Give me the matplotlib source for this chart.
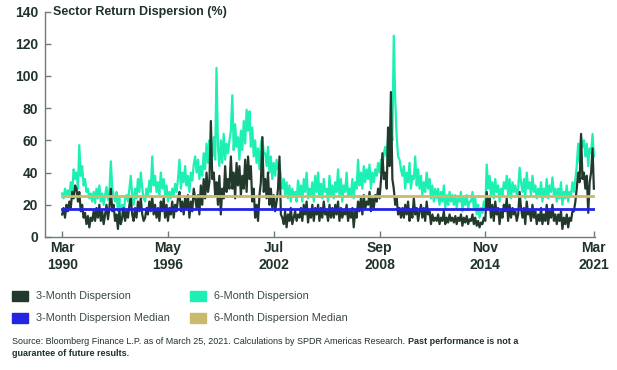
import matplotlib.pyplot as plt
from matplotlib.patches import Rectangle
import pandas as pd

plt.rcParams['font.family'] = ['Liberation Sans', 'DejaVu Sans']

# monthly points, Mar 1990 .. Mar 2021
three_month = [
    14, 18, 12, 20, 16, 22, 18, 28, 24, 32,
    30, 22, 28, 16, 20, 12, 15, 8, 13, 6, 12, 10,
    16, 10, 18, 12, 20, 10, 16, 8, 14, 20, 11, 18,
    30, 16, 20, 10, 14, 5, 16, 8, 12, 18, 10, 16,
    12, 20, 24, 14, 10, 18, 12, 22, 16, 24, 14, 10,
    12, 18, 14, 22, 16, 25, 14, 20, 12, 18, 10, 22,
    16, 24, 12, 20, 10, 18, 14, 22, 12, 20, 16, 24,
    28, 16, 22, 14, 24, 18, 26, 12, 22, 16, 30, 24,
    18, 26, 14, 32, 20, 36, 24, 40, 28, 34, 72, 36,
    40, 26, 34, 20, 38, 14, 30, 24, 44, 28, 36, 30,
    50, 30, 40, 24, 46, 32, 44, 26, 38, 30, 48, 28,
    50, 36, 44, 22, 30, 12, 20, 10, 26, 34, 62, 28,
    36, 24, 40, 20, 30, 18, 26, 16, 22, 30, 50, 14,
    12, 8, 16, 6, 14, 10, 18, 8, 12, 16, 10, 14,
    12, 18, 10, 20, 14, 22, 9, 16, 12, 20, 10, 18,
    14, 20, 10, 18, 12, 22, 14, 16, 10, 20, 12, 18,
    12, 20, 14, 22, 10, 18, 12, 16, 14, 20, 10, 16,
    12, 18, 6, 16, 12, 22, 16, 24, 14, 26, 18, 22,
    20, 28, 16, 24, 18, 26, 22, 30, 24, 35, 52, 36,
    40, 30, 68, 44, 90, 36, 30, 20, 24, 14, 18, 12,
    18, 12, 20, 14, 22, 10, 16, 12, 24, 14, 18, 10,
    16, 20, 12, 18, 10, 22, 14, 16, 8, 14, 10, 12,
    10, 14, 8, 12, 10, 16, 8, 12, 9, 14, 10, 12,
    9, 13, 8, 12, 10, 14, 7, 12, 9, 13, 8, 11,
    10, 14, 8, 12, 7, 10, 6, 9, 8, 12, 10, 28,
    18, 24, 12, 20, 10, 22, 14, 18, 8, 16, 12, 20,
    16, 24, 10, 20, 12, 18, 14, 16, 10, 14, 28, 18,
    12, 18, 8, 22, 14, 16, 10, 20, 12, 16, 8, 14,
    10, 18, 8, 14, 10, 20, 8, 16, 12, 20, 10, 14,
    8, 14, 10, 16, 5, 12, 8, 14, 6, 12, 10, 16,
    16, 22, 30, 40, 34, 64, 36, 40, 30, 38, 15, 34,
    40, 55, 30,
]
six_month = [
    27, 24, 30, 26, 29, 25, 34, 28, 42, 36,
    40, 30, 57, 38, 44, 32, 36, 28, 30, 24, 27, 22,
    28, 21, 30, 24, 32, 22, 27, 20, 26, 31, 23, 28,
    47, 30, 26, 22, 28, 16, 24, 8, 20, 14, 24, 26,
    22, 30, 38, 26, 20, 30, 24, 36, 28, 40, 30, 24,
    22, 30, 26, 35, 28, 50, 32, 38, 28, 34, 26, 40,
    30, 36, 26, 32, 22, 28, 24, 30, 26, 33, 28, 36,
    48, 30, 40, 34, 44, 32, 38, 28, 40, 35, 45, 50,
    40, 48, 36, 44, 38, 52, 42, 58, 46, 60, 54, 50,
    62, 48, 105, 56, 44, 60, 46, 64, 48, 58, 52, 60,
    66, 88, 54, 70, 56, 62, 48, 66, 54, 72, 58, 79,
    66, 78, 56, 68, 50, 60, 46, 55, 42, 58, 62, 52,
    52, 44, 56, 40, 50, 36, 46, 38, 48, 42, 45, 38,
    30, 36, 26, 34, 24, 32, 22, 30, 25, 28, 22, 35,
    26, 32, 22, 36, 28, 40, 24, 30, 26, 34, 22, 38,
    28, 40, 26, 33, 24, 36, 28, 30, 22, 38, 26, 32,
    24, 34, 28, 42, 26, 36, 22, 32, 28, 40, 25, 30,
    26, 36, 24, 34, 30, 48, 32, 40, 30, 44, 34, 42,
    36, 45, 30, 40, 34, 42, 38, 46, 40, 48, 44, 52,
    56, 50, 62, 58, 70, 60, 125, 85, 62, 50, 48, 42,
    38, 44, 30, 40, 34, 46, 30, 38, 36, 50, 32, 42,
    30, 38, 26, 34, 28, 40, 30, 36, 24, 32, 22, 30,
    24, 30, 20, 28, 22, 32, 18, 26, 20, 28, 22, 26,
    20, 26, 18, 24, 22, 28, 16, 24, 20, 26, 18, 22,
    22, 28, 18, 24, 14, 20, 12, 18, 15, 22, 18, 45,
    30, 38, 26, 34, 24, 36, 28, 32, 22, 30, 26, 34,
    30, 38, 26, 36, 24, 34, 28, 32, 26, 30, 43, 34,
    28, 36, 24, 40, 30, 34, 26, 38, 28, 32, 24, 30,
    26, 34, 22, 30, 26, 36, 24, 32, 28, 37, 26, 30,
    22, 30, 24, 34, 20, 28, 24, 32, 22, 28, 26, 34,
    28, 36, 44, 58, 46, 62, 56, 60, 50, 58, 44, 55,
    52, 64, 50,
]
median_3m = 17.5
median_6m = 25.7

tick_dates = ["1990-03-01", "1996-05-01", "2002-07-01", "2008-09-01", "2014-11-01", "2021-03-01"]
tick_labels = ["Mar\n1990", "May\n1996", "Jul\n2002", "Sep\n2008", "Nov\n2014", "Mar\n2021"]

dates = pd.date_range("1990-03-01", periods=len(three_month), freq="MS")

c_dark = "#22392c"
c_green = "#1cf0b2"
c_blue = "#2424e2"
c_gold = "#c9bb6b"
c_text = "#1f3328"

fig = plt.figure(figsize=(6.17, 3.70), dpi=100)
ax = fig.add_axes([45 / 617, 1 - 237 / 370, 550 / 617, 225.5 / 370])

ax.plot(dates, six_month, color=c_green, lw=1.6)
ax.plot(dates, three_month, color=c_dark, lw=1.6)
ax.plot([dates[0], dates[-1]], [median_6m, median_6m], color=c_gold, lw=2)
ax.plot([dates[0], dates[-1]], [median_3m, median_3m], color=c_blue, lw=2)

ax.set_ylim(0, 140)
ax.set_yticks(range(0, 141, 20))
ax.set_xlim(pd.Timestamp("1989-03-01"), pd.Timestamp("2021-03-25"))
ax.set_xticks(pd.to_datetime(tick_dates))
ax.set_xticklabels(tick_labels, linespacing=1.25)

for s in ["top", "right"]:
    ax.spines[s].set_visible(False)
for s in ["left", "bottom"]:
    ax.spines[s].set_color("#6e7d73")
    ax.spines[s].set_linewidth(1)
ax.tick_params(direction="in", length=4, width=1, color="#6e7d73", labelcolor=c_text)
ax.tick_params(axis="y", pad=5)
ax.tick_params(axis="x", pad=3)
for lab in ax.get_xticklabels() + ax.get_yticklabels():
    lab.set_fontweight("bold")
    lab.set_fontsize(10)

fig.text(53 / 617, 1 - 12 / 370, "Sector Return Dispersion (%)",
         fontsize=9, fontweight="bold", color=c_text, va="center", ha="left")

# legend
legend_items = [
    ("3-Month Dispersion", c_dark, 12, 296),
    ("6-Month Dispersion", c_green, 190, 296),
    ("3-Month Dispersion Median", c_blue, 12, 318),
    ("6-Month Dispersion Median", c_gold, 190, 318),
]
for label, color, px, py in legend_items:
    fig.add_artist(Rectangle((px / 617, 1 - (py + 5) / 370), 16 / 617, 10 / 370,
                             transform=fig.transFigure, color=color))
    fig.text((px + 24) / 617, 1 - py / 370, label, fontsize=7.8, color="#3a4a40",
             va="center", ha="left")

src = fig.text(12 / 617, 1 - 341 / 370,
               "Source: Bloomberg Finance L.P. as of March 25, 2021. Calculations by SPDR Americas Research. ",
               fontsize=6.5, color=c_text, va="center", ha="left")
fig.canvas.draw()
bb = src.get_window_extent()
fig.text(bb.x1 / fig.bbox.width, 1 - 341 / 370, "Past performance is not a",
         fontsize=6.5, fontweight="bold", color=c_text, va="center", ha="left")
fig.text(12 / 617, 1 - 354 / 370, "guarantee of future results.",
         fontsize=6.5, fontweight="bold", color=c_text, va="center", ha="left")

fig.savefig("out.png", dpi=100)
